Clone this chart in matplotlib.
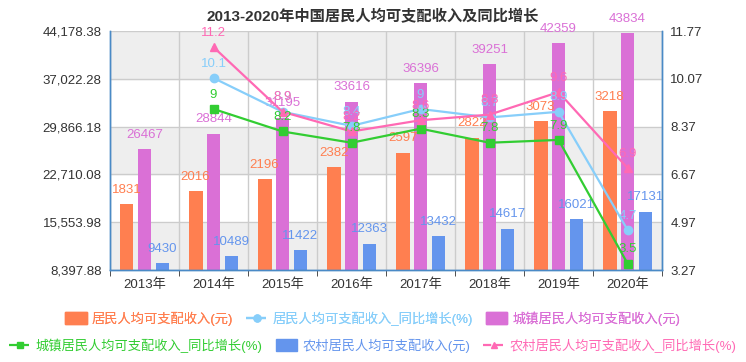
import numpy as np
import matplotlib.pyplot as plt
from matplotlib.lines import Line2D
from matplotlib.patches import Patch

plt.rcParams['font.family'] = ['Liberation Sans', 'Noto Sans CJK SC', 'DejaVu Sans']

years = ['2013年', '2014年', '2015年', '2016年', '2017年', '2018年', '2019年', '2020年']
resident = [18311, 20167, 21966, 23821, 25974, 28228, 30733, 32189]
urban = [26467, 28844, 31195, 33616, 36396, 39251, 42359, 43834]
rural = [9430, 10489, 11422, 12363, 13432, 14617, 16021, 17131]
resident_growth = [None, 10.1, 8.9, 8.4, 9, 8.7, 8.9, 4.7]
urban_growth = [None, 9, 8.2, 7.8, 8.3, 7.8, 7.9, 3.5]
rural_growth = [None, 11.2, 8.9, 8.2, 8.6, 8.8, 9.6, 6.9]

c_res, c_urb, c_rur = '#FF7F50', '#DA70D6', '#6495ED'
c_resg, c_urbg, c_rurg = '#87CEFA', '#32CD32', '#FF69B4'
axis_c = '#4a8ac6'

ymin, ymax = 8397.88, 44178.38
y2min, y2max = 3.27, 11.77

fig = plt.figure(figsize=(7.46, 3.62), dpi=100)
ax = fig.add_axes([0.1475, 0.254, 0.74, 0.66])
ax2 = ax.twinx()

x = np.arange(len(years))
w = 0.2
step = 0.26

# alternating background bands
yt = np.linspace(ymin, ymax, 6)
for i in range(5):
    ax.axhspan(yt[i], yt[i + 1], color='#eeeeee' if i % 2 == 0 else '#ffffff', zorder=0)
ax.set_yticks(yt)
ax.set_yticklabels(['{:,.2f}'.format(v) for v in yt])
ax.set_ylim(ymin, ymax)
ax.set_xlim(-0.5, len(years) - 0.5)
ax.set_xticks(x)
ax.set_xticklabels(years)
ax.set_xticks(np.arange(-0.5, len(years)), minor=True)
ax.tick_params(axis='x', which='major', length=0, labelsize=9.5, pad=6, colors='#333333')
ax.tick_params(axis='x', which='minor', length=4, color='#333333')
ax.tick_params(axis='y', length=0, labelsize=9.5, colors='#333333', pad=6)
ax.grid(True, axis='y', color='#cccccc', lw=1, zorder=1)
for xv in np.arange(-0.5, len(years)):
    ax.axvline(xv, color='#cccccc', lw=1, zorder=1)

ax.bar(x - step, resident, w, color=c_res, zorder=2)
ax.bar(x, urban, w, color=c_urb, zorder=2)
ax.bar(x + step, rural, w, color=c_rur, zorder=2)
for xs, vals, col in [(x - step, resident, c_res), (x, urban, c_urb), (x + step, rural, c_rur)]:
    for xi, v in zip(xs, vals):
        lab = str(v)[:4] if col == c_res else str(v)
        ax.annotate(lab, (xi, v), xytext=(0, 6), textcoords='offset points',
                    ha='center', va='bottom', fontsize=9.5, color=col, zorder=3)

ax2.set_ylim(y2min, y2max)
y2t = np.linspace(y2min, y2max, 6)
ax2.set_yticks(y2t)
ax2.set_yticklabels(['{:.2f}'.format(v) for v in y2t])
ax2.tick_params(axis='y', length=0, labelsize=9.5, colors='#333333', pad=6)

for vals, col, mk in [(resident_growth, c_resg, 'o'), (urban_growth, c_urbg, 's'), (rural_growth, c_rurg, '^')]:
    xs = [xi for xi, v in zip(x, vals) if v is not None]
    ys = [v for v in vals if v is not None]
    ax2.plot(xs, ys, color=col, lw=1.6, marker=mk, ms=6, zorder=4)
    for xi, v in zip(xs, ys):
        ax2.annotate(str(v), (xi, v), xytext=(0, 6), textcoords='offset points',
                     ha='center', va='bottom', fontsize=9.5, color=col, zorder=5)

for a in (ax, ax2):
    a.spines['top'].set_visible(False)
    for s in ('left', 'right', 'bottom'):
        a.spines[s].set_color(axis_c)
        a.spines[s].set_linewidth(1.0)

fig.text(0.5, 0.955, '2013-2020年中国居民人均可支配收入及同比增长', ha='center', va='center',
         fontsize=11, fontweight='bold', color='#333333')

names = ['居民人均可支配收入(元)', '居民人均可支配收入_同比增长(%)', '城镇居民人均可支配收入(元)',
         '城镇居民人均可支配收入_同比增长(%)', '农村居民人均可支配收入(元)', '农村居民人均可支配收入_同比增长(%)']
h_res = Patch(color=c_res)
h_urb = Patch(color=c_urb)
h_rur = Patch(color=c_rur)
h_resg = Line2D([], [], color=c_resg, marker='o', ls='--', lw=1.6, ms=5)
h_urbg = Line2D([], [], color=c_urbg, marker='s', ls='--', lw=1.6, ms=5)
h_rurg = Line2D([], [], color=c_rurg, marker='^', ls='--', lw=1.6, ms=5)

leg1 = fig.legend([h_res, h_resg, h_urb], names[:3], ncol=3, loc='center', bbox_to_anchor=(0.5, 0.12),
                  frameon=False, fontsize=9.5, labelcolor=[c_res, c_resg, c_urb],
                  handlelength=1.6, handleheight=1.0, handletextpad=0.4, columnspacing=1.0)
fig.add_artist(leg1)
fig.legend([h_urbg, h_rur, h_rurg], names[3:], ncol=3, loc='center', bbox_to_anchor=(0.5, 0.045),
           frameon=False, fontsize=9.5, labelcolor=[c_urbg, c_rur, c_rurg],
           handlelength=1.6, handleheight=1.0, handletextpad=0.4, columnspacing=1.0)

fig.savefig('out.png', dpi=100)
